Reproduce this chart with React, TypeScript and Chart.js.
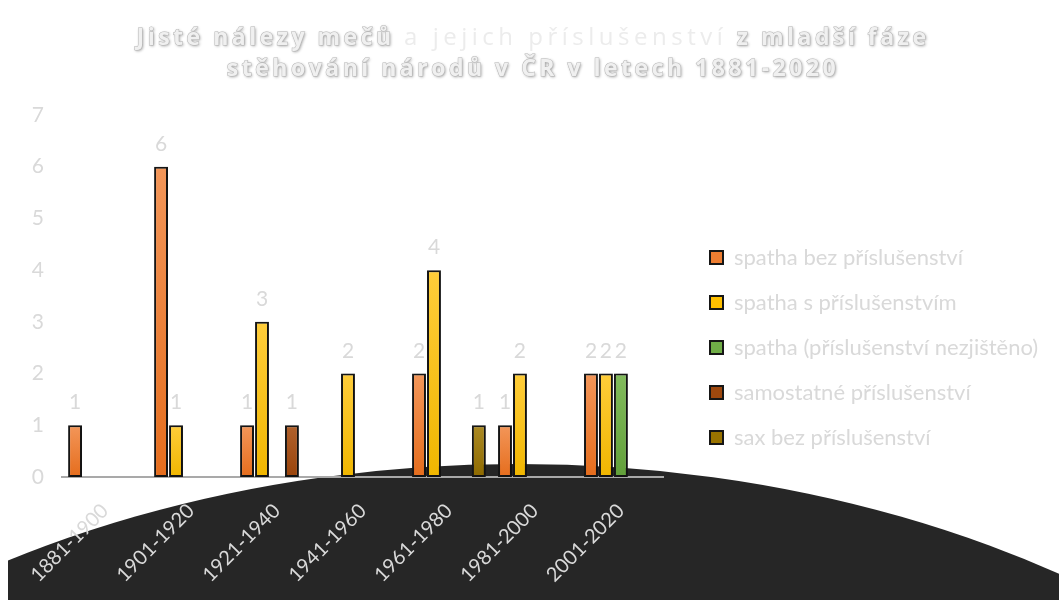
import React, { useEffect, useRef } from "react";
import { Chart, registerables } from "chart.js";

Chart.register(...registerables);

const categories = ["1881-1900", "1901-1920", "1921-1940", "1941-1960", "1961-1980", "1981-2000", "2001-2020"];
const seriesNames = [
  "spatha bez příslušenství",
  "spatha s příslušenstvím",
  "spatha (příslušenství nezjištěno)",
  "samostatné příslušenství",
  "sax bez příslušenství",
];
const spathaBez = [1, 6, 1, 0, 2, 1, 2];
const spathaS = [0, 1, 3, 2, 4, 2, 2];
const spathaNezjisteno = [0, 0, 0, 0, 0, 0, 2];
const samostatne = [0, 0, 1, 0, 0, 0, 0];
const saxBez = [0, 0, 0, 0, 1, 0, 0];
const yMax = 7;

const titleLine1 = [
  { text: "Jisté nálezy mečů ", bold: true },
  { text: "a jejich příslušenství", bold: false },
  { text: " z mladší fáze", bold: true },
];
const titleLine2 = [{ text: "stěhování národů v ČR v letech 1881-2020", bold: true }];

const baseColors = ["#ed7d31", "#ffc000", "#70ad47", "#9e480e", "#997300"];
const topColors = ["#f39659", "#ffcd3a", "#82bb5c", "#b0612c", "#ab8a24"];
const bottomColors = ["#e56d1d", "#f0b600", "#62a03a", "#9a440b", "#8e6a00"];

const FONT = "Lato, 'Open Sans', sans-serif";
const TITLE_FONT = "'Open Sans', sans-serif";
const LIGHT = "#d9d9d9";

function gradientFill(i: number) {
  return (ctx: any) => {
    const chart = ctx.chart;
    const y = chart.scales && chart.scales.y;
    if (ctx.type !== "data" || !y || !ctx.raw) return baseColors[i];
    const top = y.getPixelForValue(ctx.raw);
    const bottom = y.getPixelForValue(0);
    if (!Number.isFinite(top) || !Number.isFinite(bottom) || top === bottom) return baseColors[i];
    const g = chart.ctx.createLinearGradient(0, top, 0, bottom);
    g.addColorStop(0, topColors[i]);
    g.addColorStop(1, bottomColors[i]);
    return g;
  };
}

const ellipsePlugin = {
  id: "bgEllipse",
  beforeDraw(chart: any) {
    const ctx = chart.ctx;
    ctx.save();
    ctx.beginPath();
    ctx.rect(8, 0, chart.width, chart.height);
    ctx.clip();
    ctx.beginPath();
    ctx.ellipse(518, 1155, 1000, 691, 0, 0, Math.PI * 2);
    ctx.fillStyle = "#262626";
    ctx.fill();
    ctx.restore();
  },
};

function drawTitleLine(ctx: CanvasRenderingContext2D, segs: { text: string; bold: boolean }[], cx: number, baseline: number) {
  const setFont = (bold: boolean) => {
    ctx.font = bold ? "bold 23px " + TITLE_FONT : "24px " + TITLE_FONT;
    (ctx as any).letterSpacing = bold ? "3.5px" : "4.5px";
  };
  let total = 0;
  const widths = segs.map((s) => {
    setFont(s.bold);
    const w = ctx.measureText(s.text).width;
    total += w;
    return w;
  });
  let x = cx - total / 2;
  segs.forEach((s, i) => {
    setFont(s.bold);
    ctx.textAlign = "left";
    ctx.textBaseline = "alphabetic";
    if (s.bold) {
      ctx.save();
      ctx.shadowColor = "rgba(0,0,0,0.4)";
      ctx.shadowBlur = 3;
      ctx.shadowOffsetX = 1;
      ctx.shadowOffsetY = 1;
      ctx.fillStyle = "#e8e8e8";
      ctx.fillText(s.text, x, baseline);
      ctx.restore();
      ctx.lineWidth = 1;
      ctx.strokeStyle = "#b5b5b5";
      ctx.strokeText(s.text, x, baseline);
      ctx.fillStyle = "#f0f0f0";
      ctx.fillText(s.text, x, baseline);
    } else {
      ctx.fillStyle = "#ececec";
      ctx.fillText(s.text, x, baseline);
    }
    x += widths[i];
  });
}

const titlePlugin = {
  id: "richTitle",
  afterDraw(chart: any) {
    const ctx = chart.ctx;
    ctx.save();
    drawTitleLine(ctx, titleLine1, 533, 45);
    drawTitleLine(ctx, titleLine2, 533, 76);
    ctx.restore();
  },
};

const valueLabelPlugin = {
  id: "valueLabels",
  afterDatasetsDraw(chart: any) {
    const ctx = chart.ctx;
    ctx.save();
    ctx.shadowColor = "transparent";
    ctx.font = "21px " + FONT;
    ctx.fillStyle = LIGHT;
    ctx.textAlign = "center";
    ctx.textBaseline = "alphabetic";
    chart.data.datasets.forEach((ds: any, i: number) => {
      const meta = chart.getDatasetMeta(i);
      meta.data.forEach((el: any, j: number) => {
        const v = ds.data[j];
        if (v > 0) ctx.fillText(String(v), el.x, el.y - 16);
      });
    });
    ctx.restore();
  },
};

const barShadowPlugin = {
  id: "barShadow",
  beforeDatasetsDraw(chart: any) {
    const ctx = chart.ctx;
    ctx.save();
    ctx.shadowColor = "rgba(0,0,0,0.3)";
    ctx.shadowBlur = 4;
    ctx.shadowOffsetX = 2;
    ctx.shadowOffsetY = 1;
  },
  afterDatasetsDraw(chart: any) {
    chart.ctx.restore();
  },
};

const legendFitPlugin = {
  id: "legendFit",
  beforeLayout(chart: any) {
    const lg = chart.legend;
    if (lg && !lg.__wide) {
      const orig = lg.update.bind(lg);
      lg.update = (maxWidth: number, maxHeight: number, margins: any) => orig(Math.max(maxWidth, 420), maxHeight, margins);
      lg.__wide = true;
    }
  },
  afterLayout(chart: any) {
    const lg = chart.legend;
    if (lg) {
      const dx = 710 - (lg.left + lg.options.labels.padding);
      lg.left += dx;
      lg.right += dx;
      lg.top -= 10;
      lg.bottom -= 10;
    }
  },
};

export default function App() {
  const ref = useRef<HTMLCanvasElement | null>(null);
  useEffect(() => {
    if (!ref.current) return;
    const series = [spathaBez, spathaS, spathaNezjisteno, samostatne, saxBez];
    const chart = new Chart(ref.current, {
      type: "bar",
      data: {
        labels: categories,
        datasets: series.map((d, i) => ({
          label: seriesNames[i],
          data: d,
          backgroundColor: gradientFill(i),
          borderColor: "#161616",
          borderWidth: 2,
          borderSkipped: false,
          categoryPercentage: 0.87,
          barPercentage: 0.93,
        })),
      },
      options: {
        responsive: false,
        animation: false,
        layout: { padding: { top: 115, right: 34, bottom: 0, left: 0 } },
        plugins: {
          title: { display: false },
          tooltip: { enabled: false },
          legend: {
            position: "right",
            align: "center",
            labels: {
              color: LIGHT,
              font: { size: 22, family: FONT },
              boxWidth: 13,
              boxHeight: 13,
              padding: 23,
              generateLabels: (chart: any) => {
                const items = Chart.defaults.plugins.legend.labels.generateLabels(chart);
                return items.map((it: any, i: number) => ({ ...it, fillStyle: baseColors[i], lineWidth: 2, strokeStyle: "#161616" }));
              },
            },
          },
        },
        scales: {
          x: {
            grid: { display: false, drawTicks: false },
            border: { display: true, color: "#a9a9a9", width: 2 },
            ticks: {
              color: LIGHT,
              font: { size: 20, family: FONT },
              minRotation: 45,
              maxRotation: 45,
              padding: 22,
            },
            afterFit: (scale: any) => {
              scale.height = 123;
            },
          },
          y: {
            min: 0,
            max: yMax,
            grid: { display: false, drawTicks: false },
            border: { display: false },
            ticks: {
              stepSize: 1,
              color: LIGHT,
              font: { size: 21, family: FONT },
              padding: 18,
            },
            afterFit: (scale: any) => {
              scale.width = 62;
            },
          },
        },
      },
      plugins: [ellipsePlugin, barShadowPlugin, valueLabelPlugin, legendFitPlugin, titlePlugin],
    });
    return () => chart.destroy();
  }, []);
  return (
    <div style={{ position: "absolute", left: 0, top: 0, width: 1059, height: 600, background: "#fff" }}>
      <canvas ref={ref} width={1059} height={600} style={{ display: "block" }} />
    </div>
  );
}
